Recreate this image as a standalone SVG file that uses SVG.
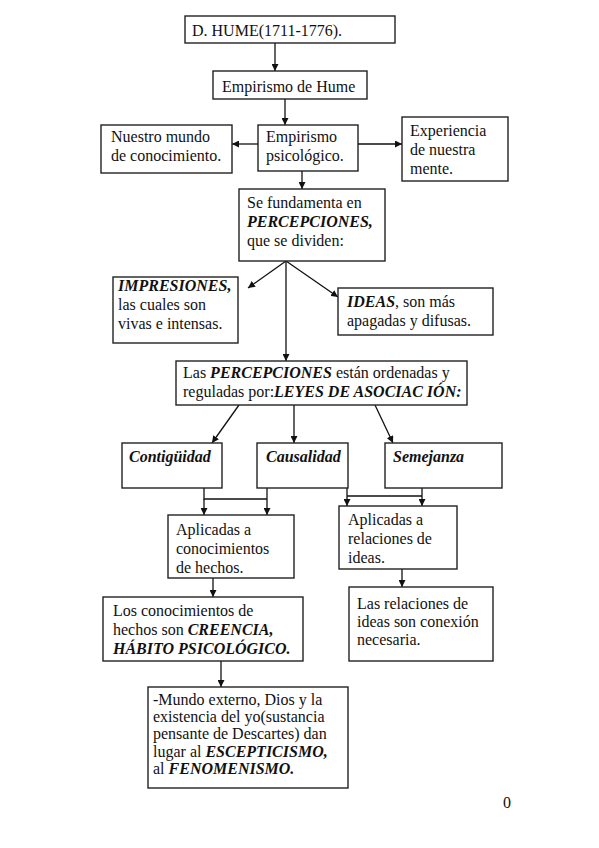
<svg xmlns="http://www.w3.org/2000/svg" width="599" height="848" viewBox="0 0 599 848">
<style>
.box{fill:#fff;stroke:#222;stroke-width:1.4}
.t{font-family:"Liberation Serif","Times New Roman",serif;font-size:16px;fill:#111}
.b{font-weight:bold;font-style:italic}
.c{fill:none;stroke:#111;stroke-width:1.3}
</style>
<defs>
<marker id="ah" viewBox="0 0 10 10" refX="10" refY="5" markerWidth="7" markerHeight="7" markerUnits="userSpaceOnUse" orient="auto">
<path d="M0,0 L10,5 L0,10 z" fill="#111"/>
</marker>
</defs>
<rect width="599" height="848" fill="#fff"/>
<g id="connectors">
<line class="c" x1="275" y1="43" x2="275" y2="71" marker-end="url(#ah)"/>
<line class="c" x1="285" y1="99" x2="285" y2="125" marker-end="url(#ah)"/>
<line class="c" x1="258" y1="144" x2="232" y2="144" marker-end="url(#ah)"/>
<line class="c" x1="358" y1="144" x2="402" y2="144" marker-end="url(#ah)"/>
<line class="c" x1="302" y1="171" x2="302" y2="189" marker-end="url(#ah)"/>
<line class="c" x1="286" y1="261" x2="248" y2="288" marker-end="url(#ah)"/>
<line class="c" x1="286" y1="261" x2="338" y2="297" marker-end="url(#ah)"/>
<line class="c" x1="286" y1="261" x2="286" y2="361" marker-end="url(#ah)"/>
<line class="c" x1="239" y1="405" x2="212" y2="443" marker-end="url(#ah)"/>
<line class="c" x1="294" y1="405" x2="294" y2="443" marker-end="url(#ah)"/>
<line class="c" x1="375" y1="405" x2="393" y2="443" marker-end="url(#ah)"/>
<polyline class="c" points="204,488 204,499 267,499"/>
<line class="c" x1="267" y1="488" x2="267" y2="499"/>
<line class="c" x1="204" y1="499" x2="204" y2="515" marker-end="url(#ah)"/>
<line class="c" x1="267" y1="499" x2="267" y2="515" marker-end="url(#ah)"/>
<line class="c" x1="347" y1="496" x2="422" y2="496"/>
<line class="c" x1="347" y1="488" x2="347" y2="506" marker-end="url(#ah)"/>
<line class="c" x1="422" y1="488" x2="422" y2="506" marker-end="url(#ah)"/>
<line class="c" x1="213" y1="578" x2="213" y2="597" marker-end="url(#ah)"/>
<line class="c" x1="402" y1="569" x2="402" y2="587" marker-end="url(#ah)"/>
<line class="c" x1="221" y1="661" x2="221" y2="687" marker-end="url(#ah)"/>
</g>
<g id="n_hume"><rect class="box" x="185" y="16" width="210" height="27"/><text class="t" x="192" y="36">D. HUME(1711-1776).</text></g>
<g id="n_empirismo"><rect class="box" x="213" y="71" width="154" height="28"/><text class="t" x="222" y="92">Empirismo de Hume</text></g>
<g id="n_psico"><rect class="box" x="258" y="125" width="100" height="46"/><text class="t" x="266" y="142">Empirismo</text><text class="t" x="266" y="161">psicológico.</text></g>
<g id="n_mundo"><rect class="box" x="101" y="125" width="131" height="48"/><text class="t" x="111" y="142">Nuestro mundo</text><text class="t" x="111" y="161">de conocimiento.</text></g>
<g id="n_exp"><rect class="box" x="402" y="117" width="106" height="64"/><text class="t" x="410" y="136">Experiencia</text><text class="t" x="410" y="155">de nuestra</text><text class="t" x="410" y="174">mente.</text></g>
<g id="n_percep"><rect class="box" x="239" y="189" width="146" height="72"/><text class="t" x="247" y="208">Se fundamenta en</text><text class="t b" x="247" y="227">PERCEPCIONES,</text><text class="t" x="247" y="246">que se dividen:</text></g>
<g id="n_impr"><rect class="box" x="113" y="277" width="125" height="66"/><text class="t b" x="118" y="291">IMPRESIONES,</text><text class="t" x="118" y="310">las cuales son</text><text class="t" x="118" y="329">vivas e intensas.</text></g>
<g id="n_ideas"><rect class="box" x="338" y="288" width="155" height="47"/><text class="t" x="347" y="307"><tspan class="b">IDEAS</tspan>, son más</text><text class="t" x="347" y="326">apagadas y difusas.</text></g>
<g id="n_leyes"><rect class="box" x="176" y="361" width="291" height="44"/><text class="t" x="183" y="378">Las <tspan class="b">PERCEPCIONES</tspan> están ordenadas y</text><text class="t" x="183" y="397">reguladas por:<tspan class="b">LEYES DE ASOCIAC IÓN:</tspan></text></g>
<g id="n_conti"><rect class="box" x="122" y="443" width="100" height="45"/><text class="t b" x="129" y="462">Contigüidad</text></g>
<g id="n_causa"><rect class="box" x="257" y="443" width="91" height="45"/><text class="t b" x="266" y="462">Causalidad</text></g>
<g id="n_seme"><rect class="box" x="385" y="443" width="117" height="45"/><text class="t b" x="393" y="462">Semejanza</text></g>
<g id="n_aplic_hechos"><rect class="box" x="168" y="515" width="126" height="63"/><text class="t" x="176" y="535">Aplicadas a</text><text class="t" x="176" y="554">conocimientos</text><text class="t" x="176" y="573">de hechos.</text></g>
<g id="n_aplic_ideas"><rect class="box" x="339" y="506" width="118" height="63"/><text class="t" x="348" y="525">Aplicadas a</text><text class="t" x="348" y="544">relaciones de</text><text class="t" x="348" y="563">ideas.</text></g>
<g id="n_creencia"><rect class="box" x="103" y="597" width="200" height="64"/><text class="t" x="113" y="616">Los conocimientos de</text><text class="t" x="113" y="635">hechos son <tspan class="b">CREENCIA,</tspan></text><text class="t b" x="113" y="654">HÁBITO PSICOLÓGICO.</text></g>
<g id="n_conexion"><rect class="box" x="349" y="587" width="144" height="74"/><text class="t" x="357" y="609">Las relaciones de</text><text class="t" x="357" y="627">ideas son conexión</text><text class="t" x="357" y="645">necesaria.</text></g>
<g id="n_mundo_ext"><rect class="box" x="148" y="687" width="200" height="101"/><text class="t" x="153" y="705">-Mundo externo, Dios y la</text><text class="t" x="153" y="722">existencia del yo(sustancia</text><text class="t" x="153" y="739">pensante de Descartes) dan</text><text class="t" x="153" y="757">lugar al <tspan class="b">ESCEPTICISMO,</tspan></text><text class="t" x="153" y="774">al <tspan class="b">FENOMENISMO.</tspan></text></g>
<text class="t" x="503" y="808">0</text>
</svg>
